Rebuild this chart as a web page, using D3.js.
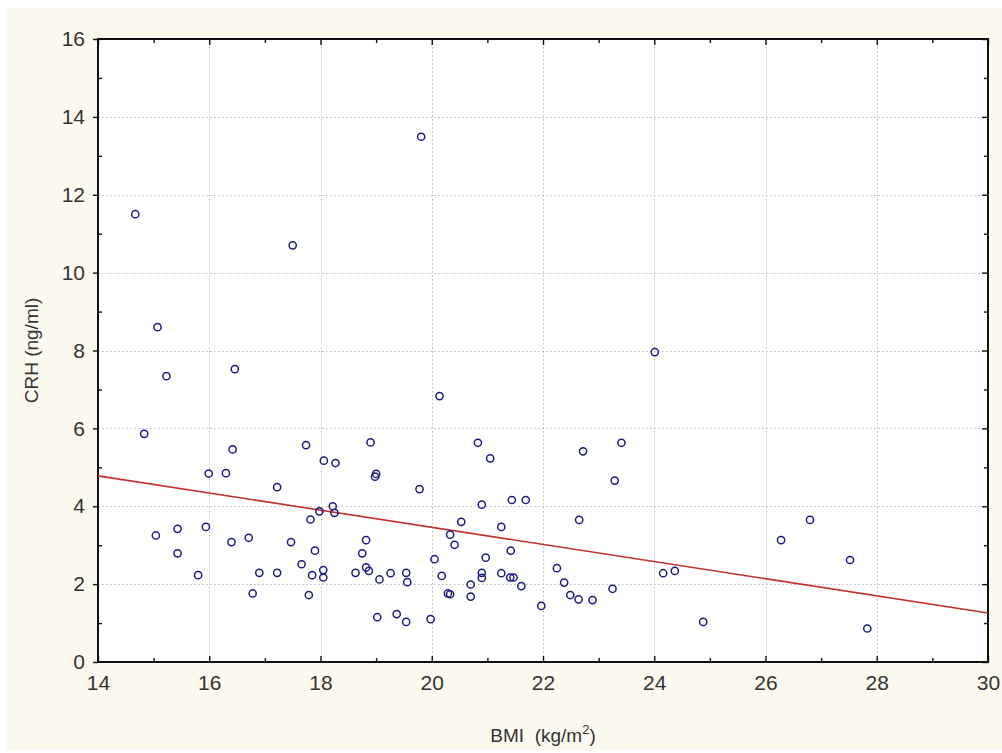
<!DOCTYPE html>
<html>
<head>
<meta charset="utf-8">
<script src="https://cdn.jsdelivr.net/npm/d3@7"></script>
<style>
  html, body { margin: 0; padding: 0; background: #ffffff; }
  svg { display: block; }
  text { font-family: "Liberation Sans", Arial, sans-serif; }
</style>
</head>
<body>
<svg id="chart" width="1002" height="753"></svg>
<script>
// BMI (kg/m^2) of each subject
const bmi = [
  14.67, 15.07, 15.23, 16.46, 14.83, 16.42, 15.99, 16.30, 17.22, 17.74,
  18.06, 18.27, 18.90, 19.00, 18.98, 17.50, 19.81, 24.01, 20.14, 20.83,
  21.05, 22.72, 23.41, 23.29, 19.78, 21.44, 21.69, 15.04, 15.43, 15.43,
  15.94, 15.80, 16.40, 16.71, 17.47, 16.90, 17.22, 16.78, 20.90, 18.22,
  18.25, 17.98, 17.82, 17.90, 17.66, 17.85, 18.05, 18.05, 17.79, 18.82,
  18.75, 18.63, 18.82, 18.87, 19.06, 19.26, 19.54, 19.56, 20.53, 20.33,
  20.41, 20.05, 20.18, 20.29, 20.33, 20.70, 20.70, 20.97, 20.90, 20.90,
  19.02, 19.37, 19.54, 19.98, 22.65, 21.25, 21.42, 21.25, 21.41, 21.47,
  21.61, 21.97, 22.25, 22.38, 22.49, 22.64, 22.89, 23.25, 24.16, 24.37,
  24.88, 26.28, 26.80, 27.52, 27.83
];
// CRH (ng/ml) of each subject, same order as bmi
const crh = [
  11.50, 8.60, 7.34, 7.52, 5.86, 5.46, 4.84, 4.85, 4.49, 5.57,
  5.17, 5.11, 5.64, 4.83, 4.76, 10.70, 13.49, 7.96, 6.83, 5.63,
  5.23, 5.41, 5.63, 4.66, 4.44, 4.16, 4.16, 3.25, 3.42, 2.79,
  3.47, 2.23, 3.08, 3.19, 3.08, 2.29, 2.29, 1.76, 4.04, 4.00,
  3.83, 3.87, 3.66, 2.86, 2.51, 2.23, 2.36, 2.17, 1.72, 3.13,
  2.79, 2.29, 2.43, 2.34, 2.12, 2.28, 2.29, 2.05, 3.60, 3.27,
  3.01, 2.64, 2.21, 1.76, 1.74, 1.99, 1.68, 2.68, 2.29, 2.16,
  1.15, 1.23, 1.03, 1.10, 3.65, 3.47, 2.86, 2.28, 2.17, 2.17,
  1.95, 1.44, 2.41, 2.04, 1.72, 1.61, 1.59, 1.88, 2.28, 2.34,
  1.03, 3.13, 3.65, 2.62, 0.86
];
// Fitted linear regression: CRH = intercept + slope * BMI
const fitIntercept = [7.86];
const fitSlope = [-0.22];

const xDomain = [14, 30];
const yDomain = [0, 16];
const xMajorTicks = [14, 16, 18, 20, 22, 24, 26, 28, 30];
const yMajorTicks = [0, 2, 4, 6, 8, 10, 12, 14, 16];
const xMinorTicks = [15, 17, 19, 21, 23, 25, 27, 29];
const yMinorTicks = [1, 3, 5, 7, 9, 11, 13, 15];
const xTitle = "BMI  (kg/m";
const yTitle = "CRH (ng/ml)";

const svg = d3.select("#chart");
const W = 1002, H = 753;
const plot = { left: 98, top: 39, right: 988, bottom: 662 };

// page background
svg.append("rect").attr("x", 0).attr("y", 0).attr("width", W).attr("height", H).attr("fill", "#ffffff");
svg.append("rect").attr("x", 6).attr("y", 8).attr("width", W - 6).attr("height", H - 11).attr("fill", "#fcf9ee");

const x = d3.scaleLinear().domain(xDomain).range([plot.left, plot.right]);
const y = d3.scaleLinear().domain(yDomain).range([plot.bottom, plot.top]);

// plot area
svg.append("rect")
  .attr("x", plot.left).attr("y", plot.top)
  .attr("width", plot.right - plot.left).attr("height", plot.bottom - plot.top)
  .attr("fill", "#ffffff");

// dotted grid
const grid = svg.append("g").attr("stroke", "#b8b8b8").attr("stroke-width", 1).attr("stroke-dasharray", "1.5,2.5");
grid.selectAll("line.gx").data(xMajorTicks.filter(d => d > xDomain[0] && d < xDomain[1])).join("line")
  .attr("x1", d => Math.round(x(d)) + 0.5).attr("x2", d => Math.round(x(d)) + 0.5)
  .attr("y1", plot.top).attr("y2", plot.bottom);
grid.selectAll("line.gy").data(yMajorTicks.filter(d => d > yDomain[0] && d < yDomain[1])).join("line")
  .attr("y1", d => Math.round(y(d)) + 0.5).attr("y2", d => Math.round(y(d)) + 0.5)
  .attr("x1", plot.left).attr("x2", plot.right);

// axes
const axisStyle = g => {
  g.select(".domain").remove();
  g.selectAll(".tick line").attr("stroke", "#111").attr("stroke-width", 1.4);
  g.selectAll(".tick text").attr("fill", "#333").attr("font-size", 21);
};

svg.append("g").attr("transform", `translate(0,${plot.bottom})`)
  .call(d3.axisBottom(x).tickValues(xMajorTicks).tickFormat(d3.format("d")).tickSize(-6).tickPadding(13))
  .call(axisStyle);
svg.append("g").attr("transform", `translate(${plot.left},0)`)
  .call(d3.axisLeft(y).tickValues(yMajorTicks).tickFormat(d3.format("d")).tickSize(5).tickPadding(8))
  .call(axisStyle);
svg.append("g").attr("transform", `translate(0,${plot.top})`)
  .call(d3.axisTop(x).tickValues(xMajorTicks).tickFormat("").tickSize(-6))
  .call(axisStyle);
svg.append("g").attr("transform", `translate(${plot.right},0)`)
  .call(d3.axisRight(y).tickValues(yMajorTicks).tickFormat("").tickSize(-6))
  .call(axisStyle);

// minor ticks
svg.append("g").attr("transform", `translate(0,${plot.bottom})`)
  .call(d3.axisBottom(x).tickValues(xMinorTicks).tickFormat("").tickSize(-4)).call(axisStyle);
svg.append("g").attr("transform", `translate(0,${plot.top})`)
  .call(d3.axisTop(x).tickValues(xMinorTicks).tickFormat("").tickSize(-4)).call(axisStyle);
svg.append("g").attr("transform", `translate(${plot.left},0)`)
  .call(d3.axisLeft(y).tickValues(yMinorTicks).tickFormat("").tickSize(-4)).call(axisStyle);
svg.append("g").attr("transform", `translate(${plot.right},0)`)
  .call(d3.axisRight(y).tickValues(yMinorTicks).tickFormat("").tickSize(-4)).call(axisStyle);

// frame
svg.append("path")
  .attr("d", `M${plot.left},${plot.top}H${plot.right}V${plot.bottom}H${plot.left}Z`)
  .attr("fill", "none").attr("stroke", "#111").attr("stroke-width", 2);

// regression line
const fit = v => fitIntercept[0] + fitSlope[0] * v;
svg.append("line")
  .attr("x1", x(xDomain[0])).attr("y1", y(fit(xDomain[0])))
  .attr("x2", x(xDomain[1])).attr("y2", y(fit(xDomain[1])))
  .attr("stroke", "#c4302f").attr("stroke-width", 1.6);

// observations
const pts = bmi.map((b, i) => ({ b, c: crh[i] }));
svg.append("g").selectAll("circle").data(pts).join("circle")
  .attr("cx", d => x(d.b)).attr("cy", d => y(d.c)).attr("r", 3.6)
  .attr("fill", "none").attr("stroke", "#1c1c7c").attr("stroke-width", 1.5);

// axis titles
const xt = svg.append("text")
  .attr("x", (plot.left + plot.right) / 2 + 0).attr("y", 742)
  .attr("text-anchor", "middle").attr("font-size", 19).attr("fill", "#333")
  .attr("xml:space", "preserve");
xt.append("tspan").text(xTitle);
xt.append("tspan").attr("dy", -8).attr("font-size", 13).text("2");
xt.append("tspan").attr("dy", 8).text(")");

svg.append("text")
  .attr("transform", `translate(38,${(plot.top + plot.bottom) / 2}) rotate(-90)`)
  .attr("text-anchor", "middle").attr("font-size", 19).attr("fill", "#333")
  .text(yTitle);
</script>
</body>
</html>
